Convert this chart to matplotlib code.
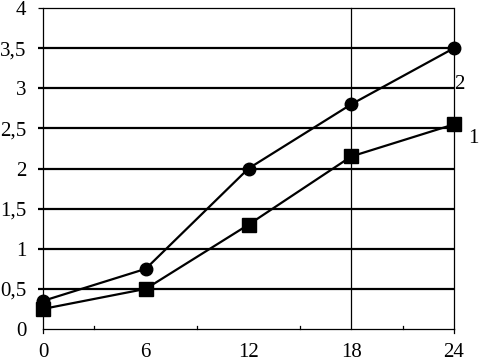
import matplotlib
matplotlib.use("Agg")
import matplotlib.pyplot as plt

x = [0, 6, 12, 18, 24]
series1 = [0.25, 0.5, 1.3, 2.15, 2.55]   # squares, label "1"
series2 = [0.35, 0.75, 2.0, 2.8, 3.5]    # circles, label "2"
y_ticks = [0, 0.5, 1, 1.5, 2, 2.5, 3, 3.5, 4]
y_labels = ["0", "0,5", "1", "1,5", "2", "2,5", "3", "3,5", "4"]
x_ticks = [0, 6, 12, 18, 24]
x_labels = ["0", "6", "12", "18", "24"]

plt.rcParams['font.family'] = ['Liberation Serif', 'DejaVu Serif']

fig = plt.figure(figsize=(4.79, 3.61), dpi=100)
W, H = 479, 361
ax = fig.add_axes([43 / W, (H - 329) / H, (454 - 43) / W, (329 - 8) / H])
ax.set_xlim(0, 24)
ax.set_ylim(0, 4)

for s in ['top', 'right']:
    ax.spines[s].set_visible(False)
ax.spines['left'].set_linewidth(0.9)
ax.spines['bottom'].set_linewidth(0.9)

ytr = ax.get_yaxis_transform()
for yv in y_ticks[1:]:
    lw = 0.9 if yv == 4 else 1.6
    ax.plot([-0.012, 1.0], [yv, yv], transform=ytr, color='black', lw=lw,
            clip_on=False, zorder=1, solid_capstyle='butt')

for xv in [18, 24]:
    ax.plot([xv, xv], [0, 4], color='black', lw=0.9, zorder=1, clip_on=False)

ax.set_yticks(y_ticks)
ax.set_yticklabels(y_labels)
ax.tick_params(axis='y', length=0, pad=12, labelsize=15)

ax.set_xticks(x_ticks)
ax.set_xticklabels(x_labels)
ax.tick_params(axis='x', length=0, pad=10, labelsize=15)

# small ticks
xtr = ax.get_xaxis_transform()
for xv in [3, 9, 15, 21]:
    ax.plot([xv, xv], [0, 0.01], transform=xtr, color='black', lw=0.9, clip_on=False)
for xv in [0, 24]:
    ax.plot([xv, xv], [-0.013, 0], transform=xtr, color='black', lw=0.9, clip_on=False)

ax.plot(x, series2, color='black', lw=1.6, marker='o', ms=9, zorder=3, clip_on=False)
ax.plot(x, series1, color='black', lw=1.6, marker='s', ms=9.5, zorder=3, clip_on=False)

ax.text(24.3, 3.05, "2", fontsize=15, ha='center', va='center')
ax.text(25.15, 2.38, "1", fontsize=15, ha='center', va='center', clip_on=False)

fig.savefig("out.png", dpi=100)
